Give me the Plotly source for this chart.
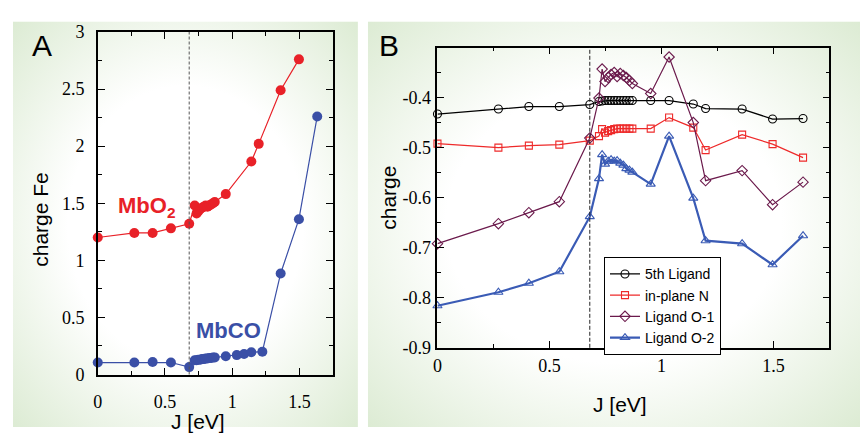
import base64
import plotly.graph_objects as go

# ---------------- data ----------------
J_cluster = [0.735, 0.748, 0.762, 0.775, 0.789, 0.802, 0.816, 0.830, 0.843, 0.857, 0.870]

# Panel A
J_A_O2 = [0, 0.272, 0.408, 0.544, 0.680, 0.721] + J_cluster + [0.952, 1.142, 1.197, 1.360, 1.496]
charge_MbO2 = [1.20, 1.24, 1.24, 1.28, 1.32, 1.48,
               1.41, 1.43, 1.45, 1.46, 1.47, 1.48, 1.47, 1.48, 1.49, 1.50, 1.51,
               1.58, 1.865, 2.02, 2.49, 2.76]
J_A_CO = [0, 0.272, 0.408, 0.544, 0.680, 0.721] + J_cluster + [0.952, 1.034, 1.088, 1.142, 1.224, 1.360, 1.496, 1.632]
charge_MbCO = [0.105, 0.105, 0.11, 0.105, 0.065, 0.125,
               0.125, 0.13, 0.13, 0.135, 0.135, 0.14, 0.14, 0.145, 0.145, 0.15, 0.15,
               0.16, 0.17, 0.18, 0.195, 0.20, 0.885, 1.36, 2.26]

# Panel B
J_B = [0, 0.272, 0.408, 0.544, 0.680, 0.721] + J_cluster + [0.952, 1.034, 1.142, 1.197, 1.360, 1.496, 1.632]
ligand5 = [-0.433, -0.423, -0.418, -0.418, -0.414, -0.408,
           -0.407, -0.406, -0.406, -0.406, -0.406, -0.406, -0.406, -0.406, -0.406, -0.406, -0.406,
           -0.406, -0.406, -0.413, -0.422, -0.423, -0.443, -0.442]
inplaneN = [-0.492, -0.500, -0.496, -0.494, -0.486, -0.477,
            -0.463, -0.470, -0.467, -0.465, -0.463, -0.462, -0.462, -0.462, -0.462, -0.462, -0.462,
            -0.462, -0.440, -0.460, -0.505, -0.474, -0.493, -0.520]
ligandO1 = [-0.692, -0.652, -0.630, -0.608, -0.481, -0.401,
            -0.343, -0.368, -0.360, -0.354, -0.350, -0.358, -0.352, -0.356, -0.360, -0.366, -0.372,
            -0.392, -0.319, -0.450, -0.566, -0.546, -0.614, -0.569]
ligandO2 = [-0.816, -0.789, -0.771, -0.748, -0.638, -0.562,
            -0.514, -0.533, -0.527, -0.524, -0.527, -0.526, -0.531, -0.535, -0.542, -0.545, -0.549,
            -0.573, -0.477, -0.601, -0.686, -0.692, -0.734, -0.676]
series_names = ["5th Ligand", "in-plane N", "Ligand O-1", "Ligand O-2"]

J_cut = 0.68

xA_ticks = [0, 0.5, 1, 1.5]
xA_text = ["0", "0.5", "1", "1.5"]
yA_ticks = [0, 0.5, 1, 1.5, 2, 2.5, 3]
yA_text = ["0", "0.5", "1", "1.5", "2", "2.5", "3"]
xB_ticks = [0, 0.5, 1, 1.5]
xB_text = ["0", "0.5", "1", "1.5"]
yB_ticks = [-0.9, -0.8, -0.7, -0.6, -0.5, -0.4]
yB_text = ["-0.9", "-0.8", "-0.7", "-0.6", "-0.5", "-0.4"]

# ---------------- figure ----------------
W, H = 860, 437
def px(x):
    return x / W
def py(y):
    return 1 - y / H

RED_A = "#e82128"
BLUE_A = "#3a4fa6"
SERIF = "Liberation Serif, Times New Roman, serif"
sans = "Liberation Sans, Arial, sans-serif"

fig = go.Figure()

fig.add_trace(go.Scatter(x=J_A_O2, y=charge_MbO2, mode="lines+markers", showlegend=False,
                         line=dict(color=RED_A, width=1.2),
                         marker=dict(color=RED_A, size=10, symbol="circle"),
                         cliponaxis=False, xaxis="x", yaxis="y"))
fig.add_trace(go.Scatter(x=J_A_CO, y=charge_MbCO, mode="lines+markers", showlegend=False,
                         line=dict(color=BLUE_A, width=1.2),
                         marker=dict(color=BLUE_A, size=10, symbol="circle"),
                         cliponaxis=False, xaxis="x", yaxis="y"))

styles = [
    dict(color="#000000", symbol="circle-open", lw=1.2, size=8),
    dict(color="#ee2a2a", symbol="square-open", lw=1.2, size=7),
    dict(color="#6b1a4c", symbol="diamond-open", lw=1.2, size=8),
    dict(color="#3a5bb5", symbol="triangle-up-open", lw=2.2, size=8),
]
for name, vals, st in zip(series_names, [ligand5, inplaneN, ligandO1, ligandO2], styles):
    fig.add_trace(go.Scatter(x=J_B, y=vals, mode="lines+markers", name=name,
                             line=dict(color=st["color"], width=st["lw"]),
                             marker=dict(color=st["color"], size=st["size"], symbol=st["symbol"],
                                         line=dict(color=st["color"], width=1.1)),
                             cliponaxis=False, xaxis="x2", yaxis="y2"))

def axis_style(dtick_minor, standoff):
    return dict(showline=True, linecolor="black", linewidth=1.5, mirror="ticks",
                ticks="inside", ticklen=7, tickwidth=1.4, tickcolor="black",
                showgrid=False, zeroline=False,
                tickfont=dict(family=SERIF, size=18, color="#000000"),
                tickmode="array", ticklabelstandoff=standoff,
                minor=dict(ticks="inside", ticklen=4, tickwidth=1.2, tickcolor="black",
                           dtick=dtick_minor, showgrid=False))

xa = axis_style(0.25, 10); xa.update(domain=[px(93.3), px(330)], range=[0, 1.75], anchor="y",
                                     tickvals=xA_ticks, ticktext=xA_text)
ya = axis_style(0.25, 8); ya.update(domain=[py(382), py(23)], range=[0, 3], anchor="x",
                                    tickvals=yA_ticks, ticktext=yA_text)
xb = axis_style(0.25, 1); xb.update(domain=[px(435), px(829.3)], range=[0, 1.75], anchor="y2",
                                    tickvals=xB_ticks, ticktext=xB_text)
yb = axis_style(0.05, 1); yb.update(domain=[py(354), py(39.3)], range=[-0.9, -0.3], anchor="x2",
                                    tickvals=yB_ticks, ticktext=yB_text)

svg = ("<svg xmlns='http://www.w3.org/2000/svg' viewBox='0 0 100 100' preserveAspectRatio='none'>"
       "<defs><radialGradient id='g' cx='50%' cy='50%' r='71%'>"
       "<stop offset='48%' stop-color='#ffffff'/>"
       "<stop offset='100%' stop-color='#dcebd3'/>"
       "</radialGradient></defs>"
       "<rect x='0' y='0' width='100' height='100' fill='url(#g)'/></svg>")
src = "data:image/svg+xml;base64," + base64.b64encode(svg.encode()).decode()

images = [
    dict(source=src, xref="paper", yref="paper", x=px(8), y=py(12), sizex=px(355) - px(8),
         sizey=py(12) - py(437), xanchor="left", yanchor="top", sizing="stretch", layer="below"),
    dict(source=src, xref="paper", yref="paper", x=px(365), y=py(12), sizex=px(860) - px(365),
         sizey=py(12) - py(437), xanchor="left", yanchor="top", sizing="stretch", layer="below"),
]

shapes = [
    dict(type="line", xref="x", yref="y domain", x0=J_cut, x1=J_cut, y0=0, y1=1,
         line=dict(color="#555555", width=1, dash="3px,2px"), layer="above"),
    dict(type="line", xref="x2", yref="y2 domain", x0=J_cut, x1=J_cut, y0=0, y1=1,
         line=dict(color="#222222", width=1, dash="4px,2px"), layer="above"),
]

annotations = [
    dict(text="A", xref="paper", yref="paper", x=px(25), y=py(37), xanchor="left", yanchor="middle",
         showarrow=False, font=dict(family=sans, size=30, color="black")),
    dict(text="B", xref="paper", yref="paper", x=px(374), y=py(37), xanchor="left", yanchor="middle",
         showarrow=False, font=dict(family=sans, size=30, color="black")),
    dict(text="<b>MbO<sub>2</sub></b>", xref="x", yref="y", x=0.36, y=1.47, xanchor="center",
         yanchor="middle", showarrow=False, font=dict(family=sans, size=22, color=RED_A)),
    dict(text="<b>MbCO</b>", xref="x", yref="y", x=0.97, y=0.385, xanchor="center",
         yanchor="middle", showarrow=False, font=dict(family=sans, size=22, color=BLUE_A)),
    dict(text="charge Fe", xref="paper", yref="paper", x=px(36), y=py(219), textangle=-90,
         xanchor="center", yanchor="middle", showarrow=False, font=dict(family=sans, size=21, color="black")),
    dict(text="J [eV]", xref="paper", yref="paper", x=px(194), y=py(431), xanchor="center",
         yanchor="middle", showarrow=False, font=dict(family=sans, size=21, color="black")),
    dict(text="charge", xref="paper", yref="paper", x=px(386), y=py(197), textangle=-90,
         xanchor="center", yanchor="middle", showarrow=False, font=dict(family=sans, size=21, color="black")),
    dict(text="J [eV]", xref="paper", yref="paper", x=px(619), y=py(413), xanchor="center",
         yanchor="middle", showarrow=False, font=dict(family=sans, size=21, color="black")),
]

fig.update_layout(
    width=W, height=H, margin=dict(l=0, r=0, t=0, b=0),
    font=dict(family=SERIF, size=18, color="#000000"),
    paper_bgcolor="white", plot_bgcolor="white",
    xaxis=xa, yaxis=ya, xaxis2=xb, yaxis2=yb,
    images=images, shapes=shapes, annotations=annotations,
    legend=dict(x=px(602.3), y=py(259), xanchor="left", yanchor="top",
                bgcolor="white", bordercolor="black", borderwidth=1.2,
                font=dict(family=sans, size=14, color="black"), tracegroupgap=0,
                itemwidth=30),
)

fig.write_html("out.html")
